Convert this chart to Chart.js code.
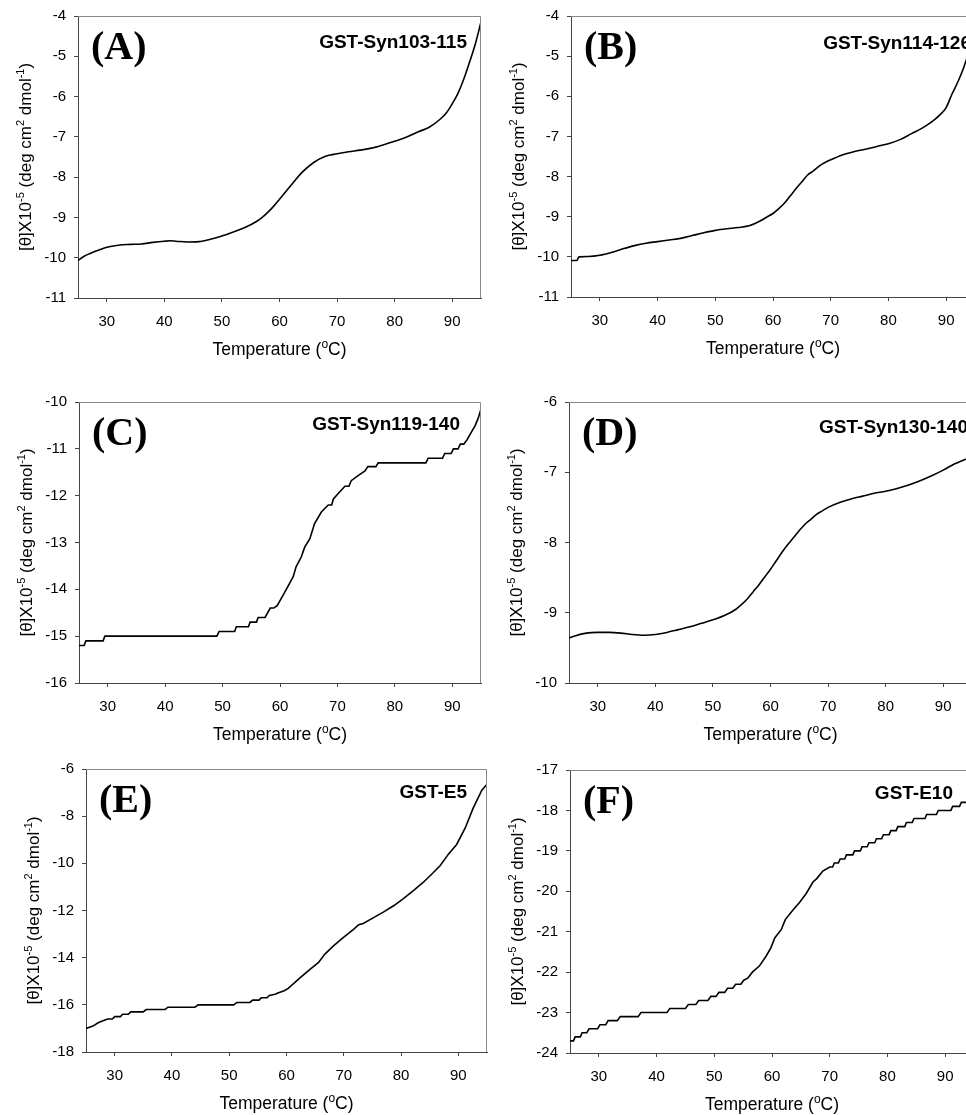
<!DOCTYPE html>
<html>
<head>
<meta charset="utf-8">
<title>Thermal unfolding of GST fusion proteins</title>
<script src="https://cdn.jsdelivr.net/npm/chart.js@4.4.0/dist/chart.umd.min.js"></script>
<style>
	html, body { margin: 0; padding: 0; background: #fff; }
	#wrap { position: relative; width: 966px; height: 1115px; overflow: hidden; }
	#wrap canvas { position: absolute; }
</style>
</head>
<body>
<div id="wrap"></div>
<script>
"use strict";

// shared axis stuff
var tempTicks = [30, 40, 50, 60, 70, 80, 90];
var panelLetters = ["(A)", "(B)", "(C)", "(D)", "(E)", "(F)"];
var sampleNames = ["GST-Syn103-115", "GST-Syn114-126", "GST-Syn119-140", "GST-Syn130-140", "GST-E5", "GST-E10"];

// axis titles, pieces flagged sup are superscripts
var xTitle = [["Temperature (", false], ["o", true], ["C)", false]];
var yTitle = [["[\u03B8]X10", false], ["-5", true], [" (deg cm", false], ["2", true], [" dmol", false], ["-1", true], [")", false]];

var yTicksA = [-11, -10, -9, -8, -7, -6, -5, -4];
var yTicksB = [-11, -10, -9, -8, -7, -6, -5, -4];
var yTicksC = [-16, -15, -14, -13, -12, -11, -10];
var yTicksD = [-10, -9, -8, -7, -6];
var yTicksE = [-18, -16, -14, -12, -10, -8, -6];
var yTicksF = [-24, -23, -22, -21, -20, -19, -18, -17];

// (A) GST-Syn103-115
var tempA = [25, 26, 27, 28, 29, 30, 32, 34, 36, 38, 40, 41, 42, 44, 46, 48, 50, 52, 54, 56, 57, 58, 59, 60, 62, 64, 66, 68, 70, 72, 74, 76, 78, 80, 82, 84, 86, 88, 89, 90, 91, 92, 93, 94, 95];
var thetaA = [-10.07, -9.97, -9.90, -9.84, -9.79, -9.74, -9.69, -9.67, -9.66, -9.62, -9.59, -9.58, -9.59, -9.61, -9.60, -9.54, -9.46, -9.36, -9.25, -9.10, -9.00, -8.87, -8.72, -8.55, -8.20, -7.87, -7.63, -7.48, -7.42, -7.37, -7.33, -7.28, -7.20, -7.11, -7.01, -6.88, -6.76, -6.55, -6.40, -6.18, -5.92, -5.57, -5.15, -4.70, -4.15];

// (B) GST-Syn114-126
var tempB = [25, 26, 26.4, 28, 30, 32, 34, 36, 38, 40, 42, 44, 46, 48, 50, 52, 54, 56, 58, 59, 60, 61, 62, 63, 64, 65, 66, 67, 68, 69, 70, 72, 74, 76, 78, 80, 82, 84, 86, 88, 89, 90, 91, 92, 93, 94, 95];
var thetaB = [-10.09, -10.09, -10.0, -9.99, -9.96, -9.89, -9.80, -9.72, -9.66, -9.62, -9.58, -9.54, -9.47, -9.40, -9.34, -9.30, -9.27, -9.22, -9.09, -9.00, -8.92, -8.80, -8.66, -8.48, -8.30, -8.13, -7.96, -7.86, -7.74, -7.65, -7.58, -7.46, -7.38, -7.32, -7.25, -7.18, -7.08, -6.93, -6.78, -6.58, -6.45, -6.28, -5.95, -5.65, -5.30, -4.85, -4.30];

// (C) GST-Syn119-140
var tempC = [25, 25.9, 26.2, 29.2, 29.5, 49.0, 49.4, 52.1, 52.4, 54.5, 54.8, 55.9, 56.2, 57.4, 58.3, 58.9, 59.5, 60.2, 61.1, 62.3, 62.8, 63.7, 64.3, 65.2, 66.0, 67.2, 68.4, 69.0, 69.3, 70.1, 71.3, 72.0, 72.4, 73.6, 74.8, 75.3, 76.7, 77.1, 85.4, 85.8, 88.3, 88.7, 89.8, 90.2, 91.0, 91.4, 92.0, 92.6, 93.3, 94.0, 94.5, 95.0];
var thetaC = [-15.2, -15.2, -15.1, -15.1, -15.0, -15.0, -14.9, -14.9, -14.8, -14.8, -14.7, -14.7, -14.6, -14.6, -14.4, -14.4, -14.35, -14.2, -14.0, -13.73, -13.52, -13.31, -13.1, -12.92, -12.6, -12.35, -12.2, -12.2, -12.07, -11.96, -11.8, -11.8, -11.68, -11.57, -11.47, -11.38, -11.38, -11.3, -11.3, -11.2, -11.2, -11.1, -11.1, -11.0, -11.0, -10.9, -10.9, -10.8, -10.65, -10.5, -10.35, -10.15];

// (D) GST-Syn130-140
var tempD = [25, 26, 28, 30, 32, 34, 36, 38, 40, 42, 44, 46, 48, 50, 52, 54, 55, 56, 57, 58, 59, 60, 61, 62, 63, 64, 65, 66, 67, 68, 69, 70, 72, 74, 76, 78, 80, 82, 84, 86, 88, 90, 92, 94, 95];
var thetaD = [-9.36, -9.33, -9.29, -9.28, -9.28, -9.29, -9.31, -9.32, -9.31, -9.28, -9.24, -9.20, -9.15, -9.10, -9.04, -8.95, -8.88, -8.80, -8.70, -8.60, -8.49, -8.38, -8.26, -8.14, -8.03, -7.93, -7.83, -7.74, -7.67, -7.60, -7.55, -7.50, -7.43, -7.38, -7.34, -7.30, -7.27, -7.23, -7.18, -7.12, -7.05, -6.97, -6.88, -6.81, -6.78];

// (E) GST-E5
var tempE = [25, 25.6, 26.2, 27.2, 28.2, 28.8, 29.6, 30.0, 31.0, 31.4, 32.4, 32.8, 35.0, 35.5, 38.8, 39.3, 44.0, 44.6, 50.8, 51.3, 53.6, 54.1, 55.2, 55.6, 56.6, 57.0, 58.0, 58.5, 59.6, 60.3, 62.4, 64.1, 65.6, 66.7, 68.2, 69.9, 71.7, 72.6, 73.4, 75.2, 76.9, 78.7, 80.4, 82.2, 83.9, 85.6, 86.8, 88.3, 89.7, 91.2, 92.6, 94.1, 95];
var thetaE = [-17.0, -16.95, -16.9, -16.75, -16.65, -16.6, -16.6, -16.5, -16.5, -16.4, -16.4, -16.3, -16.3, -16.2, -16.2, -16.1, -16.1, -16.0, -16.0, -15.9, -15.9, -15.8, -15.8, -15.7, -15.7, -15.6, -15.55, -15.5, -15.4, -15.3, -14.85, -14.5, -14.2, -13.85, -13.5, -13.15, -12.8, -12.6, -12.55, -12.3, -12.07, -11.8, -11.5, -11.15, -10.8, -10.4, -10.1, -9.6, -9.2, -8.5, -7.65, -6.9, -6.65];

// (F) GST-E10
var tempF = [25, 25.6, 25.9, 26.8, 27.1, 27.9, 28.3, 29.8, 30.2, 31.2, 31.6, 33.2, 33.7, 36.8, 37.3, 41.8, 42.3, 45.0, 45.5, 46.8, 47.3, 48.9, 49.4, 50.3, 50.8, 51.8, 52.3, 53.2, 53.7, 54.6, 55.1, 55.8, 56.6, 57.8, 59.0, 59.8, 60.5, 61.6, 62.3, 63.6, 64.8, 65.9, 67.1, 67.8, 68.8, 70.0, 70.5, 70.8, 71.5, 71.8, 72.6, 72.9, 74.0, 74.3, 75.3, 75.6, 76.5, 76.8, 77.8, 78.1, 79.0, 79.3, 80.3, 80.6, 81.5, 81.8, 83.0, 83.3, 84.3, 84.6, 86.5, 86.8, 88.5, 88.8, 91.0, 91.3, 92.5, 92.8, 94.0, 95.0];
var thetaF = [-23.7, -23.7, -23.6, -23.6, -23.5, -23.5, -23.4, -23.4, -23.3, -23.3, -23.2, -23.2, -23.1, -23.1, -23.0, -23.0, -22.9, -22.9, -22.8, -22.8, -22.7, -22.7, -22.6, -22.6, -22.5, -22.5, -22.4, -22.4, -22.3, -22.3, -22.2, -22.15, -22.0, -21.85, -21.6, -21.4, -21.15, -20.95, -20.7, -20.47, -20.27, -20.06, -19.77, -19.68, -19.5, -19.4, -19.4, -19.3, -19.3, -19.2, -19.2, -19.1, -19.1, -19.0, -19.0, -18.9, -18.9, -18.8, -18.8, -18.7, -18.7, -18.6, -18.6, -18.5, -18.5, -18.4, -18.4, -18.3, -18.3, -18.2, -18.2, -18.1, -18.1, -18.0, -18.0, -17.9, -17.9, -17.8, -17.8, -17.7];

var panels = [
	{ temp: tempA, theta: thetaA, yTicks: yTicksA, smooth: true },
	{ temp: tempB, theta: thetaB, yTicks: yTicksB, smooth: true },
	{ temp: tempC, theta: thetaC, yTicks: yTicksC, smooth: false },
	{ temp: tempD, theta: thetaD, yTicks: yTicksD, smooth: true },
	{ temp: tempE, theta: thetaE, yTicks: yTicksE, smooth: false },
	{ temp: tempF, theta: thetaF, yTicks: yTicksF, smooth: false }
];

// plot area of each panel on the page (left, top, right, bottom)
var plotBoxes = [
	[78, 15, 481, 298],
	[571, 15, 975, 297],
	[79, 401, 481, 683],
	[569, 401, 972, 683],
	[86, 768, 487, 1052],
	[570, 769, 974, 1053]
];
// distance of the sample name from the right edge / top of the plot
var nameRight = [14, 4, 21, 4, 20, 21];
var nameTop = [27, 28, 23, 26, 24, 24];

var Y_BOX = 74;   // width of y axis box
var X_BOX = 70;   // height of x axis box
var PAD_TOP = 16;
var PAD_RIGHT = 4;
var FONT = "'Liberation Sans', Arial, sans-serif";

Chart.defaults.font.family = FONT;
Chart.defaults.color = "#000";

// draws text pieces centred on 0,0 with small raised superscripts
function drawRich(ctx, pieces, size) {
	var supSize = Math.round(size * 0.66);
	var total = 0;
	pieces.forEach(function(pc) {
		ctx.font = (pc[1] ? supSize : size) + "px " + FONT;
		total += ctx.measureText(pc[0]).width;
	});
	var x = -total / 2;
	ctx.textAlign = "left";
	ctx.textBaseline = "alphabetic";
	pieces.forEach(function(pc) {
		ctx.font = (pc[1] ? supSize : size) + "px " + FONT;
		ctx.fillText(pc[0], x, pc[1] ? size * 0.35 - size * 0.42 : size * 0.35);
		x += ctx.measureText(pc[0]).width;
	});
}

// frame on top/right, axis titles and the text inside the plot
var panelDecor = {
	id: "panelDecor",
	afterDraw: function(chart, args, opts) {
		var a = chart.chartArea;
		var ctx = chart.ctx;
		ctx.save();
		ctx.strokeStyle = "#888";
		ctx.lineWidth = 1;
		ctx.beginPath();
		ctx.moveTo(a.left, a.top + 0.5);
		ctx.lineTo(a.right - 0.5, a.top + 0.5);
		ctx.lineTo(a.right - 0.5, a.bottom);
		ctx.stroke();

		ctx.fillStyle = "#000";

		// x title
		ctx.save();
		ctx.translate((a.left + a.right) / 2, a.bottom + 51);
		drawRich(ctx, xTitle, 17.5);
		ctx.restore();

		// y title
		ctx.save();
		ctx.translate(a.left - 53, (a.top + a.bottom) / 2);
		ctx.rotate(-Math.PI / 2);
		drawRich(ctx, yTitle, 17);
		ctx.restore();

		ctx.textBaseline = "middle";
		ctx.textAlign = "left";
		ctx.font = "bold 40px 'Liberation Serif', 'Times New Roman', serif";
		ctx.fillText(opts.letter, a.left + 13, a.top + 33);

		ctx.textAlign = "right";
		ctx.font = "bold 19px " + FONT;
		ctx.fillText(opts.name, a.right - opts.nameRight, a.top + opts.nameTop);
		ctx.restore();
	}
};

var wrap = document.getElementById("wrap");

panels.forEach(function(p, i) {
	var box = plotBoxes[i];
	var canvas = document.createElement("canvas");
	var w = box[2] - box[0] + Y_BOX + PAD_RIGHT;
	var h = box[3] - box[1] + PAD_TOP + X_BOX;
	canvas.width = w;
	canvas.height = h;
	canvas.style.width = w + "px";
	canvas.style.height = h + "px";
	canvas.style.left = (box[0] - Y_BOX) + "px";
	canvas.style.top = (box[1] - PAD_TOP) + "px";
	wrap.appendChild(canvas);

	var points = p.temp.map(function(t, k) {
		return { x: t, y: p.theta[k] };
	});

	new Chart(canvas, {
		type: "line",
		data: {
			datasets: [{
				data: points,
				borderColor: "#000",
				borderWidth: 1.6,
				pointRadius: 0,
				fill: false,
				tension: p.smooth ? 0.4 : 0,
				cubicInterpolationMode: p.smooth ? "monotone" : "default"
			}]
		},
		options: {
			responsive: false,
			animation: false,
			events: [],
			layout: {
				padding: { top: PAD_TOP, right: PAD_RIGHT, left: 0, bottom: 0 }
			},
			plugins: {
				legend: { display: false },
				tooltip: { enabled: false },
				panelDecor: {
					letter: panelLetters[i],
					name: sampleNames[i],
					nameRight: nameRight[i],
					nameTop: nameTop[i]
				}
			},
			scales: {
				x: {
					type: "linear",
					min: 25,
					max: 95,
					afterBuildTicks: function(scale) {
						scale.ticks = tempTicks.map(function(v) { return { value: v }; });
					},
					afterFit: function(scale) { scale.height = X_BOX; },
					grid: { drawOnChartArea: false, tickLength: 4, color: "#444" },
					border: { color: "#444", width: 1 },
					ticks: { font: { size: 15 }, padding: 11, maxRotation: 0 }
				},
				y: {
					type: "linear",
					min: p.yTicks[0],
					max: p.yTicks[p.yTicks.length - 1],
					afterBuildTicks: function(scale) {
						scale.ticks = p.yTicks.map(function(v) { return { value: v }; });
					},
					afterFit: function(scale) { scale.width = Y_BOX; },
					grid: { drawOnChartArea: false, tickLength: 4, color: "#444" },
					border: { color: "#444", width: 1 },
					ticks: { font: { size: 15 }, padding: 8 }
				}
			}
		},
		plugins: [panelDecor]
	});
});
</script>
</body>
</html>
